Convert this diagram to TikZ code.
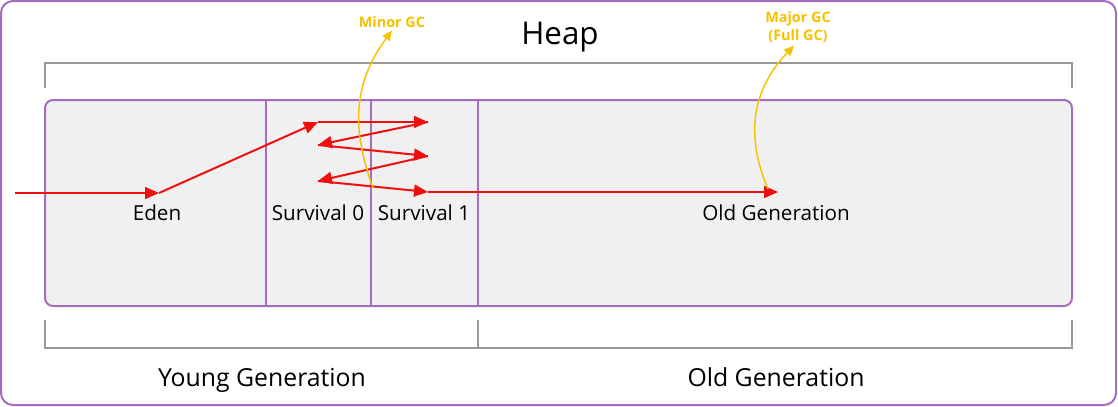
\documentclass[tikz,border=0pt]{standalone}
\usepackage{fontspec}
\setmainfont{Open Sans}
\usepackage{xcolor}
\usetikzlibrary{arrows.meta,positioning}
\definecolor{heappurple}{RGB}{166,108,192}
\definecolor{heapgray}{RGB}{153,153,153}
\definecolor{heapfill}{RGB}{240,240,240}
\definecolor{gcred}{RGB}{238,16,16}
\definecolor{gcyellow}{RGB}{246,194,0}
\tikzset{
  heapbox/.style={draw=heappurple, line width=1.5pt, rounded corners=9pt},
  genbox/.style={draw=heappurple, fill=heapfill, line width=1.5pt, rounded corners=6pt},
  divider/.style={draw=heappurple, line width=1.1pt},
  bracket/.style={draw=heapgray, line width=1.5pt},
  lbl/.style={font=\fontsize{15.5}{18}\selectfont, inner sep=0pt, anchor=base},
  biglbl/.style={font=\fontsize{18.6}{22}\selectfont, inner sep=0pt, anchor=base},
  gclbl/.style={font=\fontsize{10.8}{13.5}\selectfont\bfseries, text=gcyellow, align=center, inner sep=0pt},
  moveto/.style={-{Triangle[length=10.5pt,width=9pt]}, gcred, line width=1.5pt},
  gcarrow/.style={-{Triangle[length=7.5pt,width=6.5pt]}, gcyellow, line width=1.1pt}
}

\begin{document}
\begin{tikzpicture}[x=0.75pt, y=-0.75pt]
\useasboundingbox (0,0) rectangle (1118,407);
% outer heap frame
\draw[heapbox] (1,1) rectangle (1116,405);
\node[font=\fontsize{23.5}{28}\selectfont, inner sep=0pt, anchor=base] (heap) at (560,45) {Heap};
\draw[bracket] (45,88) -- (45,63) -- (1072,63) -- (1072,88);
% generations
\draw[genbox] (45,100) rectangle (1072,306);
\draw[divider] (266,100) -- (266,306);
\draw[divider] (371,100) -- (371,306);
\draw[divider] (478,100) -- (478,306);
\node[lbl] (eden) at (157,220) {Eden};
\node[lbl] (s0) at (318,220) {Survival 0};
\node[lbl] (s1) at (424,220) {Survival 1};
\node[lbl] (old) at (776,220) {Old Generation};
% lower bracket
\draw[bracket] (45,320) -- (45,348) -- (1072,348) -- (1072,320);
\draw[bracket] (478,320) -- (478,348);
\node[biglbl] (young) at (262,386) {Young Generation};
\node[biglbl] (oldgen) at (776,386) {Old Generation};
% object flow
\coordinate (in) at (15,193);
\coordinate (e1) at (159,193);
\coordinate (a1) at (318,122);
\coordinate (b1) at (428,122);
\coordinate (a2) at (318,145);
\coordinate (b2) at (428,156);
\coordinate (a3) at (318,181);
\coordinate (b3) at (428,192);
\coordinate (o1) at (778,192);
\draw[moveto] (in) -- (e1);
\draw[moveto] (e1) -- (a1);
\draw[moveto] (a1) -- (b1);
\draw[moveto] (b1) -- (a2);
\draw[moveto] (a2) -- (b2);
\draw[moveto] (b2) -- (a3);
\draw[moveto] (a3) -- (b3);
\draw[moveto] (b3) -- (o1);
% gc events
\node[gclbl] (minor) at (392,22) {Minor GC};
\node[gclbl] (major) at (798,27) {Major GC\\(Full GC)};
\coordinate (mstart) at (373,188);
\coordinate (Mstart) at (768,189);
\draw[gcarrow] (mstart) .. controls (352,130) and (352,85) .. ([yshift=-2pt]minor.south);
\draw[gcarrow] (Mstart) .. controls (745,135) and (752,90) .. ([xshift=-3pt,yshift=-2pt]major.south);
\end{tikzpicture}
\end{document}
